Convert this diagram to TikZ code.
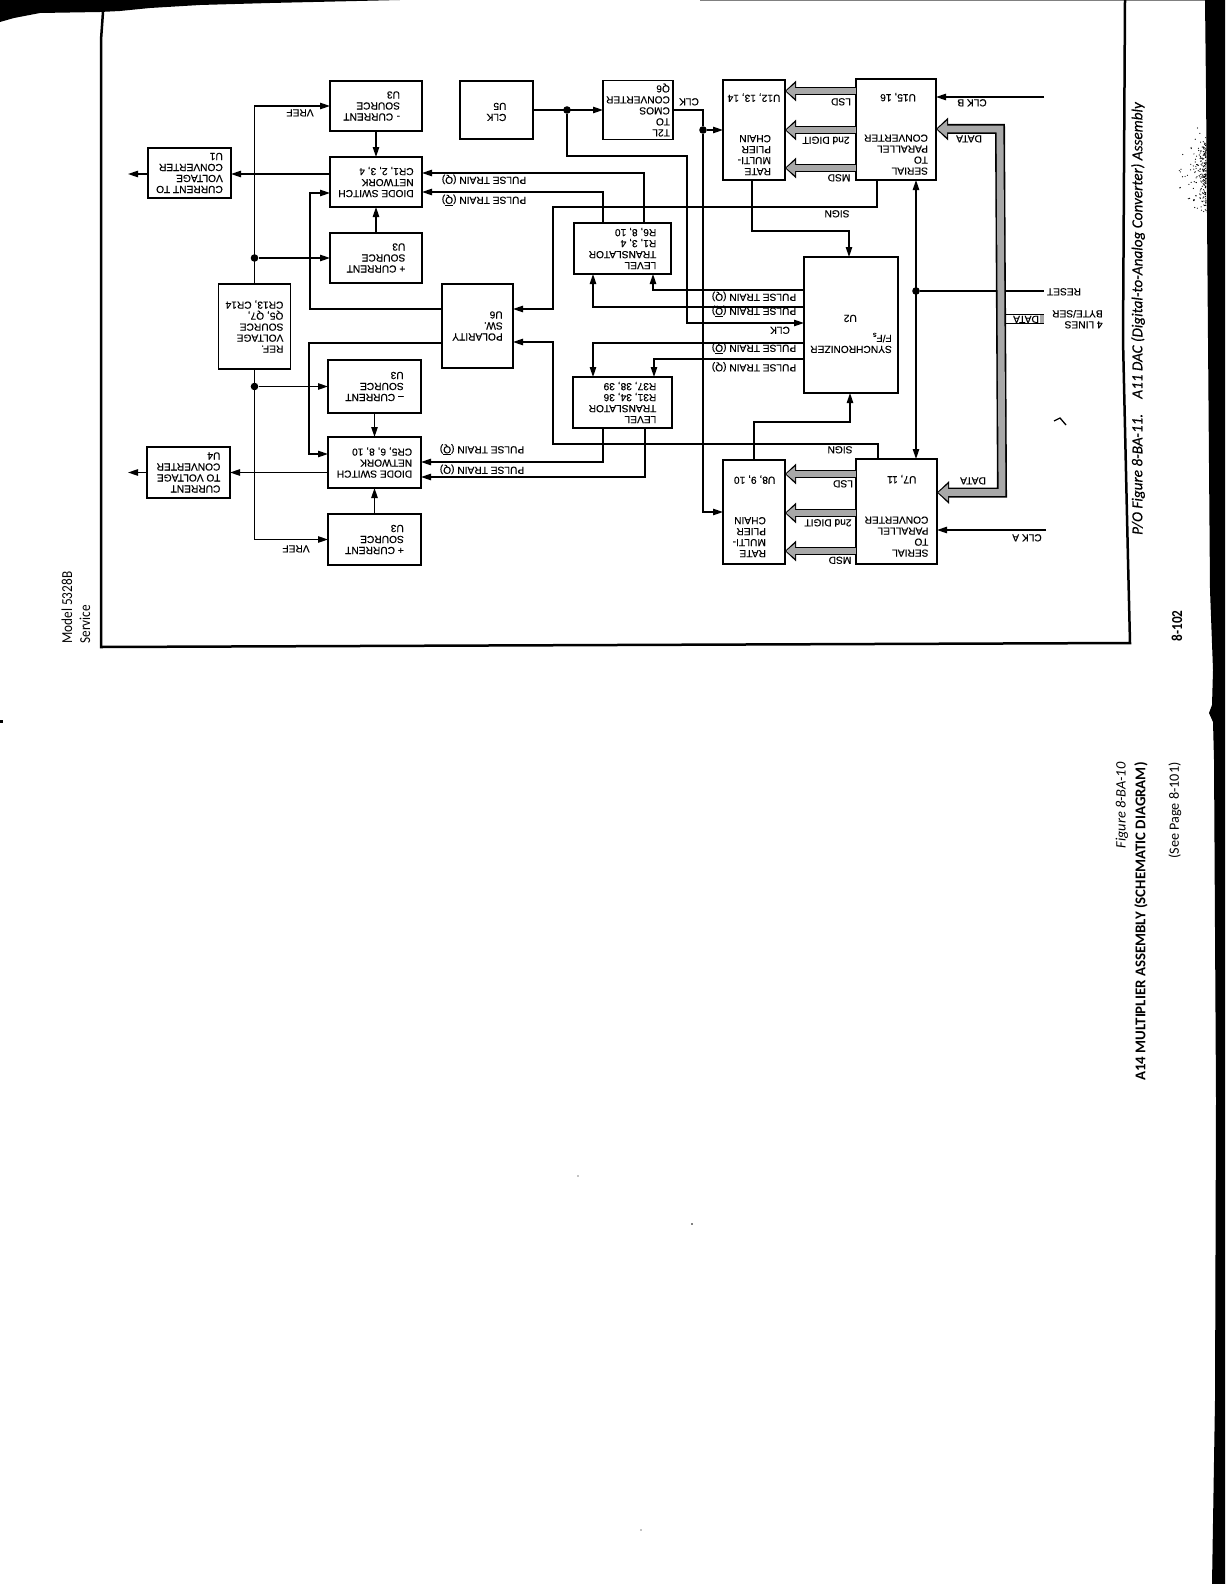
\documentclass[tikz,border=0pt]{standalone}
\usepackage{fontspec}
\setmainfont{Liberation Sans}
\newfontfamily\blockfont[FakeBold=0.3]{Liberation Sans}
\newfontfamily\capfont{Carlito}
\newfontfamily\capheavy[FakeBold=0.4]{Carlito}
\newfontfamily\capnarrow[FakeStretch=0.87]{Carlito}
\usetikzlibrary{arrows.meta}
\definecolor{busgray}{gray}{0.66}
\newcommand{\Qbar}{Q\llap{\rule[4pt]{3.9pt}{.3pt}}}
\begin{document}
\begin{tikzpicture}[
        x=0.5pt, y=-0.5pt,
        box/.style={rectangle, draw, line width=.7pt, inner sep=0pt, outer sep=0pt, align=left, rotate=180, font=\blockfont\fontsize{5.1}{5.5}\selectfont},
        lbl/.style={inner sep=0pt, rotate=180, text height=3.7pt, text depth=0pt, font=\blockfont\fontsize{5.1}{5.5}\selectfont},
        wire/.style={line width=.65pt},
        arrow/.style={wire, -{Triangle[length=5pt,width=3.2pt]}},
        arrows2/.style={wire, {Triangle[length=5pt,width=3.2pt]}-{Triangle[length=5pt,width=3.2pt]}},
        dot/.style={circle, fill, inner sep=0pt, minimum size=3.8pt},
        bus/.style={line width=4pt, -{Triangle[length=5.5pt,width=10pt]},
            postaction={draw=busgray, line width=2.8pt, -{Triangle[length=4.5pt,width=7.2pt]}, shorten >=.6pt}},
        busmain/.style={line width=5pt, {Triangle[length=6pt,width=11pt]}-{Triangle[length=6pt,width=11pt]},
            postaction={draw=busgray, line width=3.4pt, {Triangle[length=4.8pt,width=8pt]}-{Triangle[length=4.8pt,width=8pt]}, shorten >=.7pt, shorten <=.7pt}},
        capt/.style={inner sep=0pt, rotate=90, font=\capfont}
    ]
    \useasboundingbox (0,0) rectangle (1229,1584);
    % page edges
    \fill (0,0) -- (0,22) -- (14,18) -- (40,13) -- (100,12) -- (120,11) -- (150,8) -- (200,5) -- (270,3) -- (400,0) -- cycle;
    \fill[gray] (700,0) rectangle (1205,1);
    \fill (1205,0) -- (1206,90) -- (1210,590) -- (1213,670) -- (1212,705) -- (1209,713) -- (1213,722) -- (1214,760) -- (1216,1100) -- (1215,1400) -- (1212,1584) -- (1225,1584) -- (1225,0) -- cycle;
    \draw[line width=1.25pt] (103,12) -- (101,40) -- (101,647) -- (1130,643) -- (1128,560) -- (1123,340) -- (1125,0);
    \fill (0,720) rectangle (3,723);
    % specks
    \pgfmathsetseed{7}
    \foreach \n in {1,...,220}{
        \pgfmathsetmacro{\spx}{1206-48*rnd*rnd*rnd}
        \pgfmathsetmacro{\spy}{172+(rnd+rnd-1)*46}
        \fill (\spx,\spy) circle[radius=.6];
    }
    \draw[wire] (1054,421) -- (1060,418) -- (1066,425);
    \fill (692,1224) circle[radius=.8];
    \fill (578,1176) circle[radius=.6];
    \fill (641,1530) circle[radius=.6];

    % blocks, upper half
    \node[box, minimum width=46pt, minimum height=25pt, text width=24pt] (curA) at (376,106) {\mbox{- CURRENT}\\SOURCE\\U3};
    \node[box, minimum width=46pt, minimum height=25pt] (diodeA) at (376,182) {DIODE SWITCH\\NETWORK\\CR1, 2, 3, 4};
    \node[box, minimum width=46pt, minimum height=25pt] (curB) at (376,258) {+ CURRENT\\SOURCE\\U3};
    \node[box, minimum width=41.5pt, minimum height=25pt] (convA) at (189.5,173) {CURRENT TO\\VOLTAGE\\CONVERTER\\U1};
    \node[box, minimum width=36pt, minimum height=42.5pt] (refV) at (254.5,326.5) {REF.\\VOLTAGE\\SOURCE\\Q5, Q7,\\CR13, CR14};
    \node[box, minimum width=35.5pt, minimum height=42pt] (pol) at (477.5,326) {POLARITY\\SW.\\U6};
    \node[box, minimum width=36.5pt, minimum height=29pt, text depth=2pt] (clk) at (496.5,110) {CLK\\U5};
    \node[box, minimum width=35pt, minimum height=29.5pt] (ttl) at (638,110) {T2L\\TO\\CMOS\\CONVERTER\\Q6};
    \node[box, minimum width=48.5pt, minimum height=25.5pt] (lvlA) at (622.5,248.5) {LEVEL\\TRANSLATOR\\R1, 3, 4\\R6, 8, 10};
    \node[box, minimum width=31pt, minimum height=50pt, text depth=5pt] (rateA) at (754,130) {\hspace*{4.7pt}RATE\\\hspace*{4.7pt}MULTI-\\\hspace*{4.7pt}PLIER\\\hspace*{4.7pt}CHAIN\\[14.7pt]U12, 13, 14};
    \node[box, minimum width=40pt, minimum height=50.5pt, text depth=5pt] (spA) at (896,129.5) {SERIAL\\TO\\PARALLEL\\CONVERTER\\[14.7pt]\hspace*{6pt}U15, 16};
    \node[box, minimum width=47pt, minimum height=68pt, text depth=9pt] (sync) at (851,325) {SYNCHRONIZER\\F/F\textsubscript{s}\\[4.5pt]\hspace*{17.5pt}U2};

    % blocks, lower half
    \node[box, minimum width=46.5pt, minimum height=26.5pt] (curC) at (374.5,386.5) {– CURRENT\\SOURCE\\U3};
    \node[box, minimum width=46.5pt, minimum height=25.5pt] (diodeB) at (374.5,462.5) {DIODE SWITCH\\NETWORK\\CR5, 6, 8, 10};
    \node[box, minimum width=46.5pt, minimum height=25.5pt] (curD) at (374.5,539.5) {+ CURRENT\\SOURCE\\U3};
    \node[box, minimum width=41.5pt, minimum height=25.5pt] (convB) at (188.5,472.5) {CURRENT\\TO VOLTAGE\\CONVERTER\\U4};
    \node[box, minimum width=49.5pt, minimum height=25.5pt] (lvlB) at (622.5,402.5) {LEVEL\\TRANSLATOR\\R31, 34, 36\\R37, 38, 39};
    \node[box, minimum width=31pt, minimum height=52pt, text depth=5pt] (rateB) at (754,512) {\hspace*{4.7pt}RATE\\\hspace*{4.7pt}MULTI-\\\hspace*{4.7pt}PLIER\\\hspace*{4.7pt}CHAIN\\[14.7pt]U8, 9, 10};
    \node[box, minimum width=40.5pt, minimum height=52.5pt, text depth=5pt] (spB) at (896.5,511.5) {SERIAL\\TO\\PARALLEL\\CONVERTER\\[14.7pt]\hspace*{6pt}U7, 11};

    % junctions
    \node[dot] (dotA) at (254.5,258) {};
    \node[dot] (dotB) at (254.5,386.5) {};
    \node[dot] (dotC) at (567,110) {};
    \node[dot] (dotD) at (703,130) {};
    \node[dot] (dotE) at (916,291) {};

    % bends and free ends
    \coordinate (vrefA) at (254.5,106);
    \coordinate (vrefB) at (254.5,539.5);
    \coordinate (outA) at (128,174);
    \coordinate (outB) at (128,472.5);
    \coordinate (swA) at (310,309);
    \coordinate (swB) at (310,193);
    \coordinate (swC) at (309,343);
    \coordinate (swD) at (309,454);
    \coordinate (signA) at (877,207);
    \coordinate (signB) at (553,207);
    \coordinate (signC) at (553,309);
    \coordinate (signD) at (878,444);
    \coordinate (signE) at (553,444);
    \coordinate (signF) at (553,342);
    \coordinate (clkA) at (567,156);
    \coordinate (clkB) at (687,156);
    \coordinate (clkC) at (687,323);
    \coordinate (cmosA) at (703,110);
    \coordinate (cmosB) at (703,512);
    \coordinate (syncA) at (752,231);
    \coordinate (syncB) at (849,231);
    \coordinate (syncC) at (754,422);
    \coordinate (syncD) at (850,422);
    \coordinate (pulseA) at (644,173);
    \coordinate (pulseB) at (603,192);
    \coordinate (pulseC) at (645,477);
    \coordinate (pulseD) at (603,462);
    \coordinate (qA) at (653,290);
    \coordinate (qB) at (593,307);
    \coordinate (qC) at (593,343);
    \coordinate (qD) at (654,359);
    \coordinate (resetEnd) at (1044,291);
    \coordinate (clkbEnd) at (1044,97);
    \coordinate (clkaEnd) at (1046,530);
    \coordinate (lsdA) at (820,91);
    \coordinate (digA) at (820,130);
    \coordinate (msdA) at (820,168);
    \coordinate (lsdB) at (820,474);
    \coordinate (digB) at (820,513);
    \coordinate (msdB) at (820,551);
    \coordinate (busA) at (1000,129);
    \coordinate (busB) at (1002,492.5);
    \coordinate (portA) at (1006,319);
    \coordinate (portB) at (1044,319);
    \coordinate (portC) at (1040,319);

    % connectors
    \draw[arrow] (refV.south) -- (vrefA) -- (curA.east);
    \draw[arrow] (dotA) -- (curB.east);
    \draw[arrow] (refV.north) -- (vrefB) -- (curD.east);
    \draw[arrow] (dotB) -- (curC.east);
    \draw[arrow] (curA.north) -- (diodeA.south);
    \draw[arrow] (curB.south) -- (diodeA.north);
    \draw[arrow] (curC.north) -- (diodeB.south);
    \draw[arrow] (curD.south) -- (diodeB.north);
    \draw[arrow] (diodeA.east |- outA) -- (convA.west |- outA);
    \draw[arrow] (convA.east |- outA) -- (outA);
    \draw[arrow] (diodeB.east |- outB) -- (convB.west |- outB);
    \draw[arrow] (convB.east |- outB) -- (outB);
    \draw[arrow] (pol.east |- swA) -- (swA) -- (swB) -- (diodeA.east |- swB);
    \draw[arrow] (pol.east |- swC) -- (swC) -- (swD) -- (diodeB.east |- swD);
    \draw[arrow] (spA.north -| signA) -- (signA) -- (signB) -- (signC) -- (pol.west |- signC);
    \draw[arrow] (spB.south -| signD) -- (signD) -- (signE) -- (signF) -- (pol.west |- signF);
    \draw[arrow] (clk.west) -- (ttl.east);
    \draw[arrow] (dotC) -- (clkA) -- (clkB) -- (clkC) -- (sync.east |- clkC);
    \draw[wire] (ttl.west) -- (cmosA) -- (dotD);
    \draw[arrow] (dotD) -- (rateA.east);
    \draw[arrow] (dotD) -- (cmosB) -- (rateB.east);
    \draw[arrow] (rateA.north -| syncA) -- (syncA) -- (syncB) -- (sync.south -| syncB);
    \draw[arrow] (rateB.south -| syncC) -- (syncC) -- (syncD) -- (sync.north -| syncD);
    \draw[arrows2] (spA.north -| dotE) -- (spB.south -| dotE);
    \draw[wire] (dotE) -- (resetEnd);
    \draw[arrow] (clkbEnd) -- (spA.west |- clkbEnd);
    \draw[arrow] (clkaEnd) -- (spB.west |- clkaEnd);
    \draw[arrow] (lvlA.south -| pulseA) -- (pulseA) -- (diodeA.west |- pulseA);
    \draw[arrow] (lvlA.south -| pulseB) -- (pulseB) -- (diodeA.west |- pulseB);
    \draw[arrow] (lvlB.north -| pulseC) -- (pulseC) -- (diodeB.west |- pulseC);
    \draw[arrow] (lvlB.north -| pulseD) -- (pulseD) -- (diodeB.west |- pulseD);
    \draw[arrow] (sync.east |- qA) -- (qA) -- (lvlA.north -| qA);
    \draw[arrow] (sync.east |- qB) -- (qB) -- (lvlA.north -| qB);
    \draw[arrow] (sync.east |- qC) -- (qC) -- (lvlB.south -| qC);
    \draw[arrow] (sync.east |- qD) -- (qD) -- (lvlB.south -| qD);

    % data paths
    \draw[bus] (spA.east |- lsdA) -- (rateA.west |- lsdA);
    \draw[bus] (spA.east |- digA) -- (rateA.west |- digA);
    \draw[bus] (spA.east |- msdA) -- (rateA.west |- msdA);
    \draw[bus] (spB.east |- lsdB) -- (rateB.west |- lsdB);
    \draw[bus] (spB.east |- digB) -- (rateB.west |- digB);
    \draw[bus] (spB.east |- msdB) -- (rateB.west |- msdB);
    \draw[line width=5.4pt] (portA) -- (portB);
    \draw[line width=4.2pt, white] (portA) -- (portB);
    \draw[line width=4.2pt, busgray] (portC) -- (portB);
    \draw[busmain] (spA.west |- busA) -- (busA) -- (busB) -- (spB.west |- busB);
    \node[lbl] (lbDataPort) at (1026,319.5) {DATA};

    % signal names
    \node[lbl] (lbVrefA) at (300,113) {VREF};
    \node[lbl] (lbVrefB) at (296,549) {VREF};
    \node[lbl] (lbPtA) at (484,180.5) {PULSE TRAIN (Q)};
    \node[lbl] (lbPtB) at (484,200.5) {PULSE TRAIN (\Qbar)};
    \node[lbl] (lbPtC) at (482,450) {PULSE TRAIN (\Qbar)};
    \node[lbl] (lbPtD) at (482,470.5) {PULSE TRAIN (Q)};
    \node[lbl] (lbPtE) at (754,297.5) {PULSE TRAIN (Q)};
    \node[lbl] (lbPtF) at (754,311.5) {PULSE TRAIN (\Qbar)};
    \node[lbl] (lbClk) at (780,330.5) {CLK};
    \node[lbl] (lbPtG) at (754,348.5) {PULSE TRAIN (\Qbar)};
    \node[lbl] (lbPtH) at (754,368) {PULSE TRAIN (Q)};
    \node[lbl] (lbClkTtl) at (689,102) {CLK};
    \node[lbl] (lbLsdA) at (841,102) {LSD};
    \node[lbl] (lbDigA) at (826,140.5) {2nd DIGIT};
    \node[lbl] (lbMsdA) at (839,178) {MSD};
    \node[lbl] (lbSignA) at (837,214) {SIGN};
    \node[lbl] (lbSignB) at (840,450) {SIGN};
    \node[lbl] (lbLsdB) at (843,484) {LSD};
    \node[lbl] (lbDigB) at (828,523) {2nd DIGIT};
    \node[lbl] (lbMsdB) at (840,560.5) {MSD};
    \node[lbl] (lbDataA) at (969,139) {DATA};
    \node[lbl] (lbDataB) at (973,481) {DATA};
    \node[lbl] (lbClkB) at (972,103) {CLK B};
    \node[lbl] (lbClkA) at (1027,538) {CLK A};
    \node[lbl] (lbReset) at (1064,292) {RESET};
    \node[lbl, anchor=west] (lbByte) at (1103,314) {BYTE/SER};
    \node[lbl, anchor=west] (lbLines) at (1103,325) {4 LINES};

    % page text
    \node[capt, anchor=center, font=\capheavy\fontsize{7.6}{9}\selectfont\itshape] (capDac) at (1138,318.5) {P/O Figure 8-BA-11.\quad A11 DAC (Digital-to-Analog Converter) Assembly};
    \node[capt, anchor=east, font=\capfont\fontsize{7.2}{8}\selectfont\itshape] (capFig) at (1122,762) {Figure 8-BA-10};
    \node[capt, anchor=east, font=\capfont\fontsize{7.45}{9}\selectfont\bfseries] (capTitle) at (1141,762) {A14 MULTIPLIER ASSEMBLY (SCHEMATIC DIAGRAM)};
    \node[capt, anchor=east, font=\capfont\fontsize{7.1}{9}\selectfont] (capSee) at (1175,762) {(See Page 8-101)};
    \node[capt, anchor=center, font=\capnarrow\fontsize{7.6}{9}\selectfont\bfseries] (capPage) at (1177,626) {8-102};
    \node[capt, anchor=west, font=\capnarrow\fontsize{7.6}{9}\selectfont] (capModel) at (67,644) {Model 5328B};
    \node[capt, anchor=west, font=\capnarrow\fontsize{7.6}{9}\selectfont] (capServ) at (85,644) {Service};
\end{tikzpicture}
\end{document}
